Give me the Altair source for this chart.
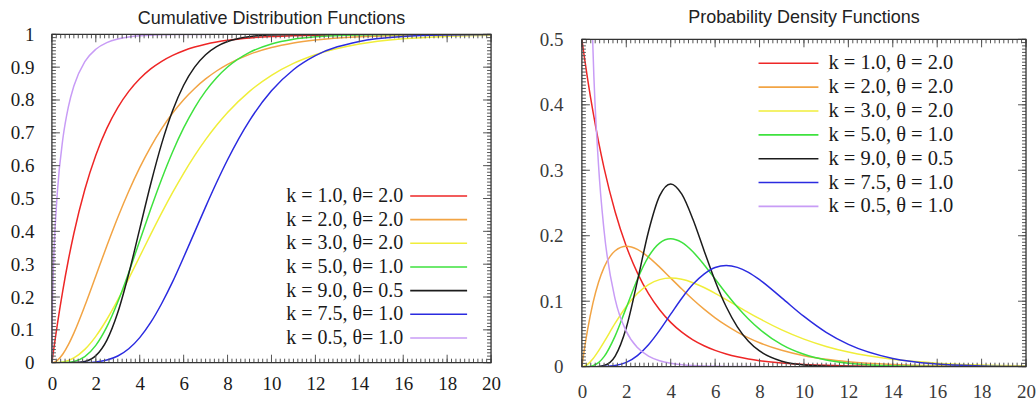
import altair as alt
import pandas as pd

# Sample positions along the x axis shared by every curve
X = [0, 0.02, 0.05, 0.1, 0.25, 0.5, 0.75, 1, 1.5, 2, 2.5, 3, 3.5, 4, 4.5, 5,
     5.5, 6, 6.5, 7, 7.5, 8, 9, 10, 11, 12, 14, 16, 18, 20]

SERIES = ["k1.0_t2.0", "k2.0_t2.0", "k3.0_t2.0", "k5.0_t1.0",
          "k9.0_t0.5", "k7.5_t1.0", "k0.5_t1.0"]
COLORS = ["#ee2626", "#f2a444", "#f0ee3a", "#3ee23e",
          "#1c1c1c", "#2b2be0", "#c89cf6"]

CDF_LABELS = ["k = 1.0, θ= 2.0", "k = 2.0, θ= 2.0", "k = 3.0, θ= 2.0",
              "k = 5.0, θ= 1.0", "k = 9.0, θ= 0.5", "k = 7.5, θ= 1.0",
              "k = 0.5, θ= 1.0"]
PDF_LABELS = ["k = 1.0, θ = 2.0", "k = 2.0, θ = 2.0", "k = 3.0, θ = 2.0",
              "k = 5.0, θ = 1.0", "k = 9.0, θ = 0.5", "k = 7.5, θ = 1.0",
              "k = 0.5, θ = 1.0"]

# Cumulative distribution values
CDF_K10_T20 = [0, 0.0100, 0.0247, 0.0488, 0.1175, 0.2212, 0.3127, 0.3935, 0.5276, 0.6321,
               0.7135, 0.7769, 0.8262, 0.8647, 0.8946, 0.9179, 0.9361, 0.9502, 0.9612, 0.9698,
               0.9765, 0.9817, 0.9889, 0.9933, 0.9959, 0.9975, 0.9991, 0.9997, 0.9999, 1.0000]
CDF_K20_T20 = [0, 0.0000, 0.0003, 0.0012, 0.0072, 0.0265, 0.0550, 0.0902, 0.1734, 0.2642,
               0.3554, 0.4422, 0.5221, 0.5940, 0.6575, 0.7127, 0.7603, 0.8009, 0.8352, 0.8641,
               0.8883, 0.9084, 0.9389, 0.9596, 0.9734, 0.9826, 0.9927, 0.9970, 0.9988, 0.9995]
CDF_K30_T20 = [0, 0, 0, 0.0000, 0.0003, 0.0022, 0.0067, 0.0144, 0.0405, 0.0803,
               0.1315, 0.1912, 0.2560, 0.3233, 0.3907, 0.4562, 0.5185, 0.5768, 0.6304, 0.6792,
               0.7229, 0.7619, 0.8264, 0.8753, 0.9116, 0.9380, 0.9704, 0.9863, 0.9938, 0.9972]
CDF_K50_T10 = [0, 0, 0, 0, 0.0000, 0.0002, 0.0011, 0.0037, 0.0186, 0.0527,
               0.1088, 0.1847, 0.2746, 0.3712, 0.4679, 0.5595, 0.6425, 0.7149, 0.7763, 0.8270,
               0.8679, 0.9004, 0.9450, 0.9707, 0.9849, 0.9924, 0.9982, 0.9996, 0.9999, 1.0000]
CDF_K90_T05 = [0, 0, 0, 0, 0, 0, 0.0000, 0.0002, 0.0038, 0.0214,
               0.0681, 0.1528, 0.2709, 0.4075, 0.5443, 0.6672, 0.7680, 0.8450, 0.9002, 0.9379,
               0.9626, 0.9780, 0.9929, 0.9979, 0.9994, 0.9998, 1.0, 1.0, 1.0, 1.0]
CDF_K75_T10 = [0, 0, 0, 0, 0, 0, 0, 0.0000, 0.0004, 0.0023,
               0.0079, 0.0203, 0.0424, 0.0763, 0.1225, 0.1803, 0.2467, 0.3210, 0.3977, 0.4745,
               0.5486, 0.6180, 0.7373, 0.8281, 0.8922, 0.9349, 0.9784, 0.9936, 0.9982, 0.9995]
CDF_K05_T10 = [0, 0.1585, 0.2482, 0.3453, 0.5205, 0.6827, 0.7793, 0.8427, 0.9167, 0.9545,
               0.9746, 0.9857, 0.9918, 0.9953, 0.9973, 0.9984, 0.9991, 0.9995, 0.9997, 0.9998,
               0.9999, 0.9999, 1.0, 1.0, 1.0, 1.0, 1.0, 1.0, 1.0, 1.0]

# Probability density values (None where the density is unbounded)
PDF_K10_T20 = [0.5, 0.4950, 0.4877, 0.4756, 0.4412, 0.3894, 0.3436, 0.3033, 0.2362, 0.1839,
               0.1433, 0.1116, 0.0869, 0.0677, 0.0527, 0.0410, 0.0320, 0.0249, 0.0194, 0.0151,
               0.0118, 0.0092, 0.0056, 0.0034, 0.0020, 0.0012, 0.0005, 0.0002, 0.0001, 0.0000]
PDF_K20_T20 = [0, 0.0050, 0.0122, 0.0238, 0.0552, 0.0974, 0.1289, 0.1516, 0.1771, 0.1839,
               0.1791, 0.1674, 0.1521, 0.1353, 0.1186, 0.1026, 0.0879, 0.0747, 0.0630, 0.0528,
               0.0441, 0.0366, 0.0250, 0.0168, 0.0112, 0.0074, 0.0032, 0.0013, 0.0006, 0.0002]
PDF_K30_T20 = [0, 0.0000, 0.0002, 0.0006, 0.0034, 0.0122, 0.0242, 0.0379, 0.0664, 0.0920,
               0.1119, 0.1255, 0.1330, 0.1353, 0.1334, 0.1283, 0.1209, 0.1120, 0.1024, 0.0925,
               0.0827, 0.0733, 0.0562, 0.0421, 0.0309, 0.0223, 0.0112, 0.0054, 0.0025, 0.0011]
PDF_K50_T10 = [0, 0, 0, 0.0000, 0.0001, 0.0016, 0.0062, 0.0153, 0.0471, 0.0902,
               0.1336, 0.1680, 0.1888, 0.1954, 0.1898, 0.1755, 0.1558, 0.1339, 0.1118, 0.0912,
               0.0729, 0.0573, 0.0337, 0.0189, 0.0102, 0.0053, 0.0013, 0.0003, 0.0001, 0.0000]
PDF_K90_T05 = [0, 0, 0, 0, 0, 0.0000, 0.0003, 0.0017, 0.0162, 0.0595,
               0.1306, 0.2065, 0.2608, 0.2792, 0.2635, 0.2252, 0.1776, 0.1310, 0.0915, 0.0609,
               0.0389, 0.0240, 0.0083, 0.0026, 0.0008, 0.0002, 0, 0, 0, 0]
PDF_K75_T10 = [0, 0, 0, 0, 0, 0, 0, 0.0002, 0.0017, 0.0065,
               0.0169, 0.0336, 0.0555, 0.0802, 0.1046, 0.1258, 0.1414, 0.1514, 0.1545, 0.1517,
               0.1441, 0.1329, 0.1051, 0.0767, 0.0524, 0.0340, 0.0125, 0.0040, 0.0012, 0.0003]
PDF_K05_T10 = [None, 3.9104, 2.4001, 1.6143, 0.8788, 0.4839, 0.3077, 0.2076, 0.1028, 0.0540,
               0.0293, 0.0162, 0.0091, 0.0052, 0.0030, 0.0017, 0.0010, 0.0006, 0.0003, 0.0002,
               0.0001, 0.0001, 0, 0, 0, 0, 0, 0, 0, 0]

CDF_VALUES = [CDF_K10_T20, CDF_K20_T20, CDF_K30_T20, CDF_K50_T10,
              CDF_K90_T05, CDF_K75_T10, CDF_K05_T10]
PDF_VALUES = [PDF_K10_T20, PDF_K20_T20, PDF_K30_T20, PDF_K50_T10,
              PDF_K90_T05, PDF_K75_T10, PDF_K05_T10]

# Axis labels and tick marks
X_LABELS = [0, 2, 4, 6, 8, 10, 12, 14, 16, 18, 20]
X_MINOR = [i / 5 for i in range(101)]
CDF_Y_LABELS = [0, 0.1, 0.2, 0.3, 0.4, 0.5, 0.6, 0.7, 0.8, 0.9, 1]
CDF_Y_MINOR = [i / 100 for i in range(101)]
PDF_Y_LABELS = [0, 0.1, 0.2, 0.3, 0.4, 0.5]
PDF_Y_MINOR = [i / 200 for i in range(101)]

SERIF = "Liberation Serif"
SANS = "Liberation Sans"
TICK_COLOR = "#555555"
FRAME_COLOR = "#333333"


def long_table(values):
    rows = []
    for sid, ys in zip(SERIES, values):
        for x, y in zip(X, ys):
            if y is not None:
                rows.append({"series": sid, "x": x, "value": y})
    return pd.DataFrame(rows)


def panel(values, labels, ymax, y_labels, y_minor, w, h, top_gap, title,
          title_offset, label_color, x_pad, y_pad, legend):
    # the frame sits top_gap pixels below the top of the view
    hv = h + top_gap
    xs = alt.Scale(domain=[0, 20], nice=False, zero=False)
    ys = alt.Scale(domain=[0, ymax], nice=False, zero=False, range=[hv, top_gap])
    color = alt.Color("series:N", scale=alt.Scale(domain=SERIES, range=COLORS), legend=None)
    x_axis = alt.Axis(values=X_LABELS, ticks=False, domain=False, grid=False,
                      labelFont=SERIF, labelFontSize=19, labelColor=label_color,
                      labelPadding=x_pad, labelFlush=False, title=None)
    y_axis = alt.Axis(values=y_labels, ticks=False, domain=False, grid=False, format="~g",
                      labelFont=SERIF, labelFontSize=19, labelColor=label_color,
                      labelPadding=y_pad, labelFlush=False, title=None)

    def xq(field):
        return alt.X(field, type="quantitative", scale=xs, axis=x_axis)

    def yq(field):
        return alt.Y(field, type="quantitative", scale=ys, axis=y_axis)

    lines = alt.Chart(long_table(values)).mark_line(
        interpolate="monotone", clip=True, strokeWidth=1.5
    ).encode(x=xq("x"), y=yq("value"), color=color)

    # white band above the frame hides curves running past the top of the scale
    band = alt.Chart(pd.DataFrame({"series": SERIES[:1]})).mark_rect(
        fill="white", stroke=None
    ).encode(x=alt.value(0), x2=alt.value(w), y=alt.value(-1), y2=alt.value(top_gap))

    frame = alt.Chart(pd.DataFrame({"series": SERIES[:1]})).mark_rect(
        fill="transparent", stroke=FRAME_COLOR, strokeWidth=1.3
    ).encode(x=alt.value(0), x2=alt.value(w), y=alt.value(top_gap), y2=alt.value(hv))

    ticks = []
    xmaj = pd.DataFrame({"t": X_LABELS})
    xmin = pd.DataFrame({"t": X_MINOR})
    ymaj = pd.DataFrame({"t": y_labels})
    ymin = pd.DataFrame({"t": y_minor})
    for df, ln in ((xmaj, 8), (xmin, 4)):
        for a, b in ((hv, hv - ln), (top_gap, top_gap + ln)):
            ticks.append(alt.Chart(df).mark_rule(color=TICK_COLOR, strokeWidth=1).encode(
                x=xq("t"), y=alt.value(a), y2=alt.value(b)))
    for df, ln in ((ymaj, 8), (ymin, 4)):
        for a, b in ((0, ln), (w, w - ln)):
            ticks.append(alt.Chart(df).mark_rule(color=TICK_COLOR, strokeWidth=1).encode(
                y=yq("t"), x=alt.value(a), x2=alt.value(b)))

    leg = alt.Chart(pd.DataFrame({"series": SERIES, "label": labels})).transform_window(
        idx="row_number()"
    ).transform_calculate(ly=f"{legend['y0']} + {legend['step']} * (datum.idx - 1)")
    ly = alt.Y("ly:Q", scale=None, axis=None)
    swatch = leg.mark_rule(strokeWidth=1.6).encode(
        x=alt.value(legend["l0"]), x2=alt.value(legend["l1"]), y=ly, color=color)
    text = leg.mark_text(align=legend["align"], baseline="middle", font=SERIF,
                         fontSize=legend["size"], color="#1a1a1a").encode(
        x=alt.value(legend["tx"]), y=ly, text="label:N")

    layers = [lines]
    if top_gap > 0:
        layers.append(band)
    layers += ticks + [frame, swatch, text]
    return alt.layer(*layers).properties(
        width=w, height=hv,
        title=alt.TitleParams(title, font=SANS, fontSize=18, fontWeight="normal",
                              color="#222222", offset=title_offset, anchor="middle"),
    )


left = panel(CDF_VALUES, CDF_LABELS, 1, CDF_Y_LABELS, CDF_Y_MINOR, 440, 329, 0,
             "Cumulative Distribution Functions", -3, "#1a1a1a", 12, 18,
             {"y0": 162, "step": 23.7, "l0": 359, "l1": 416, "tx": 352,
              "align": "right", "size": 20})
right = panel(PDF_VALUES, PDF_LABELS, 0.5, PDF_Y_LABELS, PDF_Y_MINOR, 445, 328, 5,
              "Probability Density Functions", 3, "#3a3a3a", 16, 19,
              {"y0": 29, "step": 23.9, "l0": 177, "l1": 237, "tx": 247,
               "align": "left", "size": 20.5})

chart = alt.hconcat(left, right, spacing=37).properties(
    padding={"left": 9, "top": 8, "right": 0, "bottom": 0},
    background="white",
).configure_view(stroke="transparent")

chart.save("out.html", embed_options={"renderer": "svg", "actions": False})
